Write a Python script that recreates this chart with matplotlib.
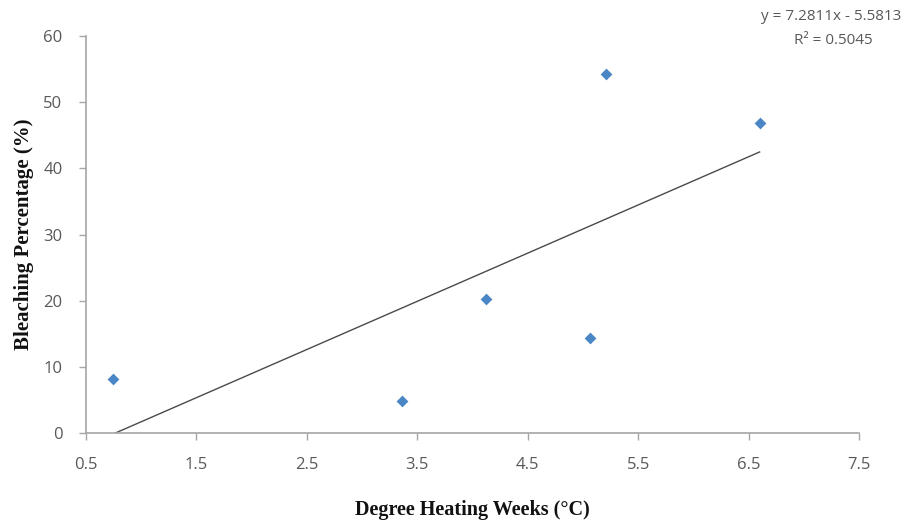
import matplotlib
matplotlib.use("Agg")
import matplotlib.pyplot as plt
import numpy as np

# Data
dhw = [0.74, 3.36, 4.12, 5.06, 5.21, 6.60]
bleaching = [8.2, 4.9, 20.2, 14.4, 54.2, 46.8]
slope = 7.2811
intercept = -5.5813
r2 = 0.5045
xticks = [0.5, 1.5, 2.5, 3.5, 4.5, 5.5, 6.5, 7.5]
yticks = [0, 10, 20, 30, 40, 50, 60]

W, H = 905, 520
fig = plt.figure(figsize=(W / 100, H / 100), dpi=100)
ax = fig.add_axes([86 / W, 1 - 433 / H, (859 - 86) / W, (433 - 36) / H])

tick_font = "Open Sans"
gray = "#595959"

ax.scatter(dhw, bleaching, marker="D", s=36, color="#4a86c5", zorder=3, linewidths=0)

xs = np.array([min(dhw), max(dhw)])
ax.plot(xs, slope * xs + intercept, color="#4a4a4a", lw=1.0, zorder=2)

ax.set_xlim(0.5, 7.5)
ax.set_ylim(0, 60)
ax.set_xticks(xticks)
ax.set_yticks(yticks)
ax.set_xticklabels([f"{v:.1f}" for v in xticks], fontfamily=tick_font, fontsize=12, color=gray)
ax.set_yticklabels([str(v) for v in yticks], fontfamily=tick_font, fontsize=12, color=gray)

for s in ["top", "right"]:
    ax.spines[s].set_visible(False)
for s in ["left", "bottom"]:
    ax.spines[s].set_color("#a6a6a6")
    ax.spines[s].set_linewidth(1.2)
ax.tick_params(axis="both", direction="out", length=5, width=1.0, color="#a6a6a6")
ax.tick_params(axis="x", pad=12)
ax.tick_params(axis="y", pad=12)

ax.set_xlabel("Degree Heating Weeks (\u00b0C)", fontfamily="Liberation Serif",
              fontweight="bold", fontsize=14.5, labelpad=20, color="#111111")
ax.set_ylabel("Bleaching Percentage (%)", fontfamily="Liberation Serif",
              fontweight="bold", fontsize=15, color="#111111")
ax.yaxis.set_label_coords(-52 / (859 - 86), 0.5)

fig.text(901 / W, 1 - 16 / H, f"y = {slope}x - {abs(intercept)}", ha="right", va="center",
         fontfamily=tick_font, fontsize=11, color=gray)
fig.text(833 / W, 1 - 41 / H, f"R\u00b2 = {r2}", ha="center", va="center",
         fontfamily=tick_font, fontsize=11, color=gray)

fig.savefig("out.png", dpi=100, facecolor="white")
